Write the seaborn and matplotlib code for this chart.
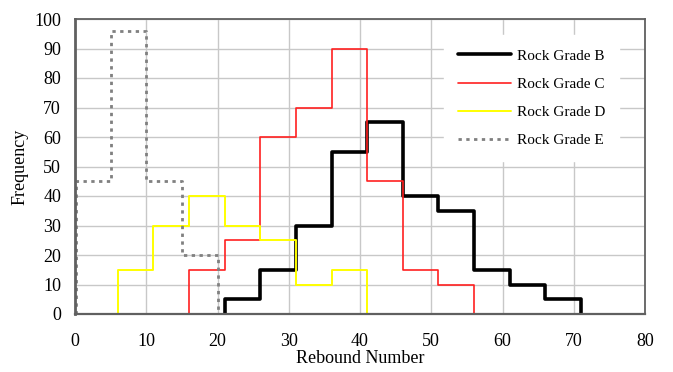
import matplotlib
matplotlib.use("Agg")
import matplotlib.pyplot as plt
import seaborn as sns
import pandas as pd

# ---- data ----
series_names = ["Rock Grade B", "Rock Grade C", "Rock Grade D", "Rock Grade E"]
edges_B = [21, 26, 31, 36, 41, 46, 51, 56, 61, 66, 71]
freq_B = [5, 15, 30, 55, 65, 40, 35, 15, 10, 5]
edges_C = [16, 21, 26, 31, 36, 41, 46, 51, 56]
freq_C = [15, 25, 60, 70, 90, 45, 15, 10]
edges_D = [6, 11, 16, 21, 26, 31, 36, 41]
freq_D = [15, 30, 40, 30, 25, 10, 15]
edges_E = [0.2, 5, 10, 15, 20]
freq_E = [45, 96, 45, 20]

x_ticks = [0, 10, 20, 30, 40, 50, 60, 70, 80]
y_ticks = [0, 10, 20, 30, 40, 50, 60, 70, 80, 90, 100]

def outline(edges, freq):
    xs = [edges[0]] + list(edges)
    ys = [0] + list(freq) + [0]
    return xs, ys

rows = []
for name, (e, f) in zip(series_names, [(edges_B, freq_B), (edges_C, freq_C),
                                        (edges_D, freq_D), (edges_E, freq_E)]):
    xs, ys = outline(e, f)
    for i, (a, b) in enumerate(zip(xs, ys)):
        rows.append({"series": name, "x": a, "y": b, "order": i})
df = pd.DataFrame(rows)

sns.set_theme(style="whitegrid")
plt.rcParams["font.family"] = ["Liberation Serif", "DejaVu Serif"]

fig = plt.figure(figsize=(6.73, 3.72), dpi=100)
ax = fig.add_axes([75 / 673, 58 / 372, 570 / 673, 295 / 372])

styles = {
    "Rock Grade B": dict(color="black", lw=2.6, ls="-"),
    "Rock Grade C": dict(color="#ff2020", lw=1.2, ls="-"),
    "Rock Grade D": dict(color="#ffff00", lw=1.4, ls="-"),
    "Rock Grade E": dict(color="#808080", lw=2.0, ls=(0, (1.2, 1.6))),
}
for name in series_names:
    sub = df[df["series"] == name]
    st = styles[name]
    sns.lineplot(data=sub, x="x", y="y", ax=ax, sort=False, estimator=None,
                 drawstyle="steps-post", color=st["color"], linewidth=st["lw"],
                 linestyle=st["ls"], label=name)

ax.set_xlim(0, 80)
ax.set_ylim(0, 100)
ax.set_xticks(x_ticks)
ax.set_yticks(y_ticks)
ax.set_facecolor("white")
ax.grid(True, color="#c8c8c8", linewidth=1.0)
for sp in ax.spines.values():
    sp.set_color("#606060")
    sp.set_linewidth(1.3)
    sp.set_visible(True)
ax.spines["left"].set_linewidth(2.0)
ax.spines["bottom"].set_linewidth(1.6)
ax.tick_params(axis="both", direction="in", length=4, width=1.2, color="#404040",
               labelsize=13, labelcolor="black")
ax.tick_params(axis="x", pad=14)
ax.tick_params(axis="y", pad=10)
ax.set_xlabel("Rebound Number", fontsize=13, labelpad=0, color="black")
ax.set_ylabel("Frequency", fontsize=13, labelpad=4, color="black")

leg = ax.legend(loc="upper right", bbox_to_anchor=(0.954, 0.945), borderaxespad=0,
                frameon=True, facecolor="white", edgecolor="white", framealpha=1,
                fancybox=False, fontsize=11, handlelength=3.5, handletextpad=0.35,
                labelspacing=0.95, borderpad=0.9)
for t in leg.get_texts():
    t.set_color("black")

fig.savefig("out.png", dpi=100)
